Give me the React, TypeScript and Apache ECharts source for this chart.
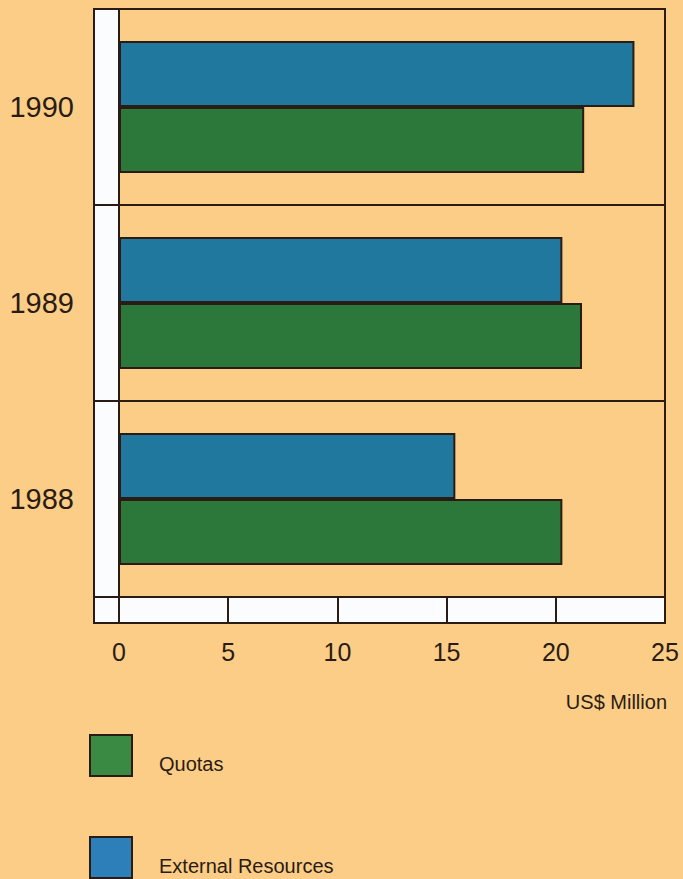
import React, { useEffect, useRef } from "react";
import * as echarts from "echarts";

// Financing by year, US$ million
const years = ["1988", "1989", "1990"];
const quotas = [20.3, 21.2, 21.3];
const externalResources = [15.4, 20.3, 23.6];
const xTicks = [0, 5, 10, 15, 20, 25];

const W = 683;
const H = 879;
const BG = "#FBCD86";
const INK = "#2a1c14";
const FONT = "'Liberation Sans', Arial, sans-serif";

// plot box
const GL = 119;
const GR = 665;
const GT = 9;
const GB = 597;
// frame around plot incl. white strips
const FL = 94;
const FR = 665;
const FB = 623;

const legendItem = (name: string, color: string, top: number) => ({
  orient: "vertical",
  left: 89,
  top,
  padding: 0,
  itemWidth: 42,
  itemHeight: 41,
  icon: "rect",
  selectedMode: false,
  data: [{ name, itemStyle: { color, borderColor: INK, borderWidth: 2 } }],
  formatter: "{t|{name}}",
  textStyle: {
    fontFamily: FONT,
    fontSize: 20,
    color: INK,
    rich: {
      t: {
        fontFamily: FONT,
        fontSize: 20,
        color: INK,
        padding: [16, 0, 0, 22],
      },
    },
  },
});

export default function App() {
  const ref = useRef<HTMLDivElement>(null);

  useEffect(() => {
    if (!ref.current) return;
    const chart = echarts.init(ref.current, null, { renderer: "svg" });
    const rowH = (GB - GT) / years.length;
    const stripDividers = years.slice(1).map((_, i) => ({
      type: "line",
      z: 5,
      shape: { x1: FL, y1: GT + rowH * (i + 1), x2: GL, y2: GT + rowH * (i + 1) },
      style: { stroke: INK, lineWidth: 2 },
    }));

    chart.setOption({
      animation: false,
      backgroundColor: BG,
      grid: { left: GL, right: W - GR, top: GT, bottom: H - GB, containLabel: false },
      xAxis: {
        type: "value",
        min: xTicks[0],
        max: xTicks[xTicks.length - 1],
        interval: 5,
        axisLine: { show: true, lineStyle: { color: INK, width: 2 } },
        axisTick: { show: true, inside: false, length: FB - GB, lineStyle: { color: INK, width: 2 } },
        splitLine: { show: false },
        axisLabel: {
          margin: 42,
          fontFamily: FONT,
          fontSize: 25,
          color: INK,
        },
      },
      yAxis: {
        type: "category",
        data: years,
        axisLine: { show: true, lineStyle: { color: INK, width: 2 } },
        axisTick: { show: false },
        splitLine: { show: true, lineStyle: { color: INK, width: 2 } },
        axisLabel: {
          margin: 45,
          fontFamily: FONT,
          fontSize: 29,
          color: INK,
        },
      },
      legend: [
        legendItem("Quotas", "#3b8a44", 734),
        legendItem("External Resources", "#2d7fba", 836),
      ],
      graphic: [
        // white strips along the left and bottom of the plot
        { type: "rect", z: -1, shape: { x: FL, y: GT, width: GL - FL, height: FB - GT }, style: { fill: "#fbfcfd" } },
        { type: "rect", z: -1, shape: { x: FL, y: GB, width: FR - FL, height: FB - GB }, style: { fill: "#fbfcfd" } },
        // frame
        { type: "rect", z: 5, shape: { x: FL, y: GT, width: FR - FL, height: FB - GT }, style: { fill: "none", stroke: INK, lineWidth: 2 } },
        { type: "line", z: 5, shape: { x1: GL, y1: GT, x2: GL, y2: FB }, style: { stroke: INK, lineWidth: 2 } },
        { type: "line", z: 5, shape: { x1: FL, y1: GB, x2: FR, y2: GB }, style: { stroke: INK, lineWidth: 2 } },
        ...stripDividers,
        {
          type: "text",
          z: 5,
          right: W - 667,
          top: 692,
          style: { text: "US$ Million", fontFamily: FONT, fontSize: 20, fill: INK },
        },
      ],
      series: [
        {
          name: "External Resources",
          type: "bar",
          data: externalResources,
          barWidth: 66,
          barGap: "0%",
          itemStyle: { color: "#21789f", borderColor: INK, borderWidth: 2 },
        },
        {
          name: "Quotas",
          type: "bar",
          data: quotas,
          barWidth: 66,
          barGap: "0%",
          itemStyle: { color: "#2c773a", borderColor: INK, borderWidth: 2 },
        },
      ],
    });
    return () => chart.dispose();
  }, []);

  return (
    <div
      ref={ref}
      style={{ position: "absolute", left: 0, top: 0, width: W, height: H }}
    />
  );
}
